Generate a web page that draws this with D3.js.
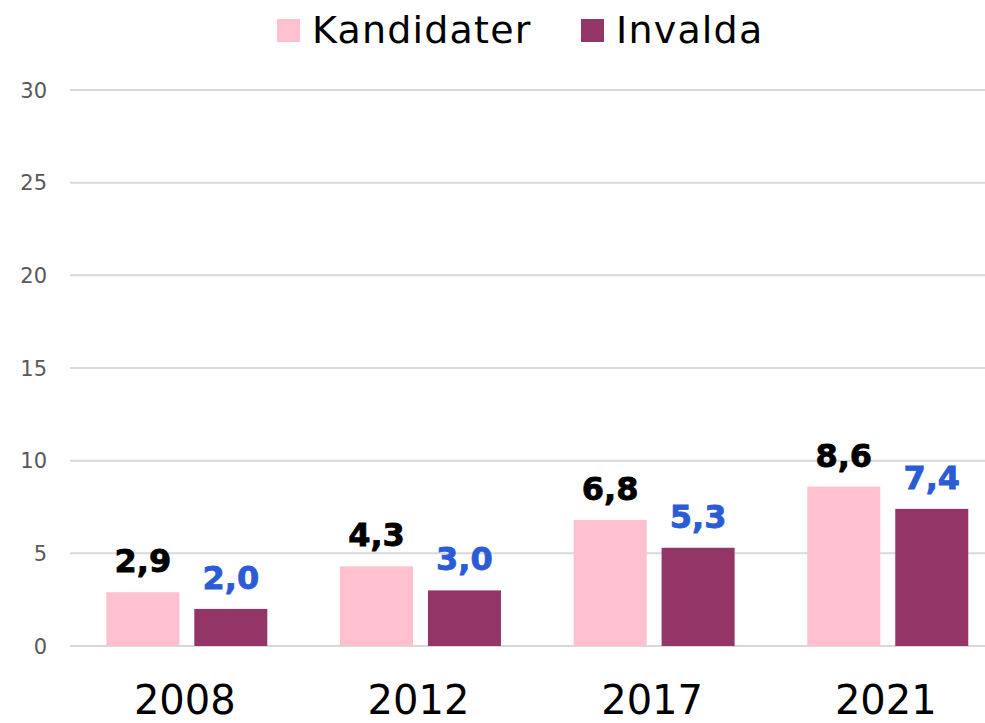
<!DOCTYPE html>
<html>
<head>
<meta charset="utf-8">
<script src="https://cdn.jsdelivr.net/npm/d3@7"></script>
<style>
  body { margin: 0; background: #fff; }
  svg { display: block; }
</style>
</head>
<body>
<div class="graph"></div>
<script>
// data
var years = ["2008", "2012", "2017", "2021"];
var seriesNames = ["Kandidater", "Invalda"];
var kandidater = [2.9, 4.3, 6.8, 8.6];
var invalda = [2.0, 3.0, 5.3, 7.4];
var yTicks = [0, 5, 10, 15, 20, 25, 30];

var colors = { Kandidater: "#ffc0cf", Invalda: "#933667" };
var labelColors = { Kandidater: "#000000", Invalda: "#2a5cd6" };

var width = 985, height = 723;
var svg = d3.select(".graph").append("svg")
  .attr("width", width)
  .attr("height", height);

// scales
var x0 = d3.scaleBand().domain(years).range([70, 1004.6])
  .paddingInner(0.311).paddingOuter(0.1555);
var x1 = d3.scaleBand().domain(seriesNames).range([0, x0.bandwidth()])
  .paddingInner(0.17);
var y = d3.scaleLinear().domain([0, 30]).range([646, 90]);

// gridlines
svg.append("g").selectAll("line")
  .data(yTicks)
  .enter().append("line")
  .attr("x1", 70).attr("x2", 985)
  .attr("y1", d => y(d)).attr("y2", d => y(d))
  .attr("stroke", "#d9d9d9")
  .attr("stroke-width", 2);

// y labels
svg.append("g").selectAll("text")
  .data(yTicks)
  .enter().append("text")
  .attr("x", 47)
  .attr("y", d => y(d))
  .attr("dy", "0.36em")
  .attr("text-anchor", "end")
  .attr("font-family", "DejaVu Sans")
  .attr("font-size", 21)
  .attr("fill", "#595959")
  .text(d => d);

// bars
var rows = years.map(function (yr, i) {
  return { year: yr, values: [
    { key: "Kandidater", value: kandidater[i] },
    { key: "Invalda", value: invalda[i] }
  ]};
});

var groups = svg.append("g").selectAll("g")
  .data(rows)
  .enter().append("g")
  .attr("transform", d => "translate(" + x0(d.year) + ",0)");

groups.selectAll("rect")
  .data(d => d.values)
  .enter().append("rect")
  .attr("x", d => x1(d.key))
  .attr("width", x1.bandwidth())
  .attr("y", d => y(d.value))
  .attr("height", d => y(0) - y(d.value))
  .attr("fill", d => colors[d.key]);

// value labels
var fmt = d3.format(".1f");
groups.selectAll("text")
  .data(d => d.values)
  .enter().append("text")
  .attr("x", d => x1(d.key) + x1.bandwidth() / 2)
  .attr("y", d => y(d.value) - 20)
  .attr("text-anchor", "middle")
  .attr("font-family", "DejaVu Sans")
  .attr("font-weight", "bold")
  .attr("font-size", 32)
  .attr("stroke", d => labelColors[d.key])
  .attr("stroke-width", 0.8)
  .attr("fill", d => labelColors[d.key])
  .text(d => fmt(d.value).replace(".", ","));

// x labels
svg.append("g").selectAll("text")
  .data(years)
  .enter().append("text")
  .attr("x", d => x0(d) + x0.bandwidth() / 2 - 2)
  .attr("y", 714)
  .attr("text-anchor", "middle")
  .attr("font-family", "DejaVu Sans")
  .attr("font-size", 40)
  .attr("fill", "#000")
  .text(d => d);

// legend
var legendX = { Kandidater: 277, Invalda: 581 };
var legend = svg.append("g").selectAll("g")
  .data(seriesNames)
  .enter().append("g")
  .attr("transform", d => "translate(" + legendX[d] + ",0)");

legend.append("rect")
  .attr("x", 0).attr("y", 19)
  .attr("width", 23).attr("height", 23)
  .attr("fill", d => colors[d]);

legend.append("text")
  .attr("x", 35)
  .attr("y", 43)
  .attr("font-family", "DejaVu Sans")
  .attr("font-size", 38)
  .attr("letter-spacing", 1.2)
  .attr("fill", "#000")
  .text(d => d);
</script>
</body>
</html>
